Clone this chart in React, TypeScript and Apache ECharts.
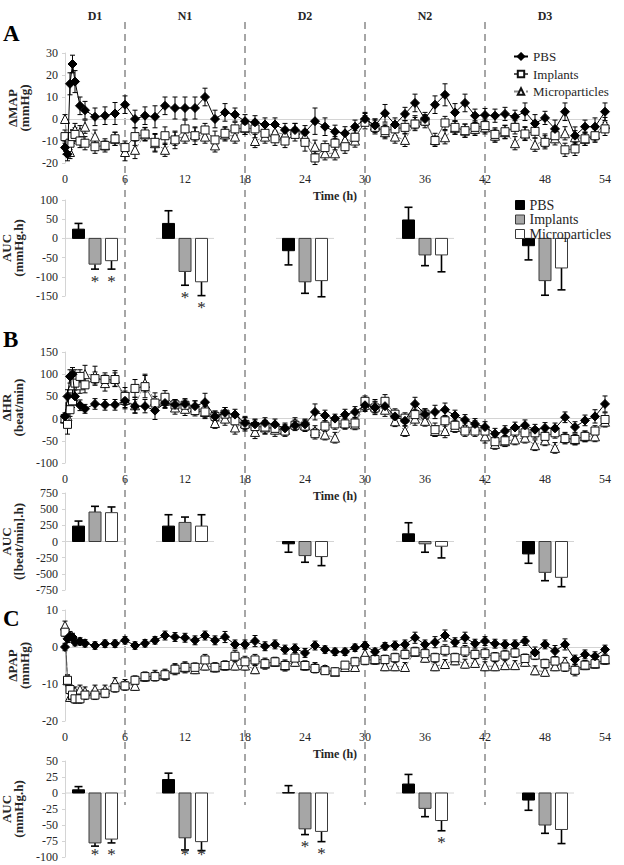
import React, { useEffect, useRef } from "react";
import * as echarts from "echarts";

// ---------------- categories / ticks ----------------
const TIMES_H = [0, 0.25, 0.5, 0.75, 1, 1.5, 2,
  3, 4, 5, 6, 7, 8, 9, 10, 11, 12,
  13, 14, 15, 16, 17, 18, 19, 20, 21, 22,
  23, 24, 25, 26, 27, 28, 29, 30, 31, 32,
  33, 34, 35, 36, 37, 38, 39, 40, 41, 42,
  43, 44, 45, 46, 47, 48, 49, 50, 51, 52,
  53, 54];
const PERIOD_NAMES = ["D1", "N1", "D2", "N2", "D3"];
const PERIOD_EDGES = [0, 6, 18, 30, 42, 54];
const GROUP_NAMES = ["PBS", "Implants", "Microparticles"];

// ---------------- Panel A: ΔMAP (mmHg) ----------------
const MAP_PBS = [-13, -16, 16, 25, 17, 6, 4,
  1, 1.5, 2.5, 6.5, 0, 1.5, 1, 6, 5, 5,
  5, 10, 0, 3, 2, -1, -1.5, -2.5, -2.5, -5,
  -5, -6, -1, -3.5, -5.8, -6.5, -3.5, 0, -3, 2.6,
  -2.5, 2.3, 7.3, 0, 6.5, 11, 3, 7.3, 1.5, 1.8,
  1.5, 2.3, 1, 3.3, -2, 0.5, -4.5, 3.3, -7.6, -3.5,
  -3.5, 3.3];
const MAP_PBS_ERR = [3, 3, 5, 4, 5, 4, 4,
  4, 4, 5, 4, 4, 4, 5, 4, 5, 5,
  5, 4, 4, 4, 3, 3, 3, 3, 3, 3,
  3, 3, 6, 4, 3, 3, 3, 3, 3, 4,
  3, 3, 4, 3, 4, 5, 4, 4, 3, 3,
  3, 3, 3, 4, 4, 3, 4, 4, 4, 3,
  4, 4];
const MAP_IMP = [-8, -13, -11, -8, -7, -10, -11,
  -12.6, -12, -9, -13, -8, -6.8, -10.6, -7.6, -9.5, -4.5,
  -7.6, -5, -9.5, -6.5, -4.5, -4, -4.5, -6.5, -9, -10,
  -7, -10.6, -17.7, -13, -11, -12.6, -8.3, -1.5, -3.8, -5.3,
  -4.5, -3.8, -2.3, -1, -9.8, -1.8, -3.8, -5.3, -3.8, -3,
  -7, -5.8, -3.8, -6.8, -5.6, -10.6, -7.6, -14, -13.6, -9,
  -7.6, -4.5];
const MAP_IMP_ERR = [3, 3, 3, 3, 3, 3, 3,
  3, 2, 3, 3, 4, 3, 4, 4, 4, 4,
  4, 3, 4, 3, 3, 3, 4, 3, 3, 3,
  3, 4, 3, 3, 3, 3, 3, 3, 3, 3,
  3, 3, 3, 3, 2, 3, 3, 3, 3, 3,
  3, 3, 3, 3, 3, 3, 3, 3, 3, 3,
  3, 3];
const MAP_MIC = [0, -12, -15, -8, -5, -6, -3.5,
  -8, -12, -9, -15, -14, -7, -11, -14, -9, -8,
  -7, -8, -12, -7, -8, -4, -10, -8, -6, -7,
  -5, -8, -12.6, -15.6, -15.6, -9.5, -9.8, 0.5, -3, -6,
  -8, -9.5, -1.5, -0.5, -9.5, -8.3, -4, -5.3, -4.5, -3.8,
  -7.6, -6, -11, -6.5, -11.7, -9.8, -8.8, -6.5, -8.3, -9,
  -7, -2.3];
const MAP_MIC_ERR = [2, 3, 3, 3, 3, 3, 3,
  3, 3, 3, 4, 4, 3, 4, 3, 3, 3,
  3, 3, 3, 3, 3, 3, 3, 3, 3, 3,
  3, 3, 3, 3, 3, 3, 3, 2, 3, 3,
  3, 3, 3, 2, 3, 3, 3, 3, 3, 3,
  3, 3, 3, 3, 3, 3, 3, 3, 3, 3,
  3, 3];

// ---------------- Panel B: ΔHR (beat/min) ----------------
const HR_PBS = [5, 50, 95, 100, 50, 30, 22,
  33, 31, 31, 40, 28, 28, 18, 35, 31, 33,
  28, 37, 5, 13, 9, -10, -13, -10, -13, -22,
  -15, -13, 15, 7, 0, 9, 15, 30, 25, 28,
  5, -5, 33, 10, 15, 20, 7, -3, -12, -19,
  -34, -28, -20, -15, -25, -21, -22, 3, -19, -4,
  5, 33];
const HR_PBS_ERR = [8, 15, 15, 15, 15, 12, 10,
  12, 12, 12, 15, 15, 15, 20, 12, 12, 12,
  12, 20, 12, 12, 12, 12, 12, 12, 12, 12,
  10, 12, 18, 12, 10, 12, 12, 12, 12, 15,
  12, 12, 15, 12, 15, 15, 12, 12, 12, 12,
  12, 12, 12, 12, 12, 12, 12, 12, 12, 12,
  15, 18];
const HR_IMP = [0, -13, 20, 40, 80, 95, 76,
  90, 88, 88, 50, 68, 72, 35, 48, 31, 30,
  18, 15, 5, 10, -5, -13, -18, -19, -22, -28,
  -15, -17, -34, -17, -12, -12, -10, 39, 24, 39,
  10, 1, 9, 10, -25, -5, -15, -28, -28, -28,
  -52, -50, -28, -32, -32, -40, -32, -45, -47, -40,
  -28, -2];
const HR_IMP_ERR = [10, 22, 15, 15, 15, 15, 18,
  15, 15, 15, 20, 20, 25, 15, 15, 12, 12,
  12, 12, 12, 15, 15, 15, 15, 15, 12, 12,
  12, 12, 12, 12, 12, 12, 12, 12, 15, 15,
  12, 12, 12, 12, 15, 12, 12, 12, 12, 12,
  12, 12, 12, 12, 12, 12, 12, 12, 12, 12,
  12, 15];
const HR_MIC = [0, 5, 40, 75, 90, 75, 100,
  98, 80, 90, 42, 30, 80, 40, 40, 25, 22,
  25, 15, -10, 0, -20, -10, -30, -20, -25, -25,
  -10, -15, -28, -36, -43, -10, -13, 31, 28, 20,
  -6, -28, 0, -5, -28, -28, -19, -22, -17, -40,
  -57, -51, -47, -43, -60, -49, -66, -43, -47, -40,
  -40, -7];
const HR_MIC_ERR = [8, 15, 18, 20, 20, 18, 20,
  20, 18, 18, 20, 18, 20, 18, 15, 15, 15,
  15, 15, 12, 15, 15, 15, 15, 15, 15, 12,
  12, 12, 12, 12, 12, 12, 12, 15, 15, 15,
  12, 12, 15, 12, 12, 15, 12, 12, 12, 15,
  12, 12, 12, 12, 12, 12, 12, 12, 12, 12,
  12, 12];

// ---------------- Panel C: ΔPAP (mmHg) ----------------
const PAP_PBS = [0, 2.2, 3, 2.7, 1.3, 1.5, 1,
  0.4, 0.9, 0.9, 1.8, 0.4, 1, 1.8, 3.1, 2.7, 2.5,
  1.8, 3.1, 1.8, 2.7, 0.7, 0.7, 1.6, 0.2, 0.7, -0.7,
  -0.4, -1.6, 0.4, -0.7, -1.3, -1.3, -0.2, 0.4, -1.3, 0.2,
  0.4, 0.7, 2.5, 0.7, 1.3, 3.1, 1.3, 2.5, 0.9, 1.6,
  0.9, 0.7, 0.7, 1.6, -1.5, 0.7, -1.1, 0.7, -3.4, -2,
  -2.5, -0.7];
const PAP_PBS_ERR = [1, 1, 1.2, 1, 1, 1, 1,
  1, 1, 1, 1, 1, 1, 1, 1.2, 1.2, 1.2,
  1.2, 1.2, 1.2, 1.5, 1.2, 1.2, 1.5, 1.2, 1.2, 1.2,
  1.2, 1.2, 1.2, 1, 1, 1, 1, 1, 1, 1,
  1.2, 1.2, 1.5, 1.2, 1.5, 1.5, 1.2, 1.5, 1.2, 1.2,
  1.2, 1.2, 1.2, 1.2, 1.5, 1.2, 1.5, 1.5, 1.2, 1.2,
  1.2, 1.2];
const PAP_IMP = [4, -9, -11.5, -13, -14, -14, -13,
  -13, -12.5, -11, -10.5, -9, -8, -8, -7.5, -6, -5.5,
  -5.5, -3.5, -5.5, -5, -2.5, -4, -3.5, -4.5, -4, -5,
  -3, -5, -5.8, -6.4, -6.7, -4.9, -4, -3.6, -3.4, -3.4,
  -2.9, -2, -1.3, -1.8, -2.9, -0.9, -2.9, -1.1, -2, -1.8,
  -2.7, -2.2, -1.6, -3.1, -2.2, -4.5, -3.8, -5.4, -6.3, -4.9,
  -4.5, -3.4];
const PAP_IMP_ERR = [1.2, 1.5, 1.2, 1.2, 1.2, 1.2, 1.2,
  1.2, 1.2, 1.2, 1.2, 1.2, 1.2, 1.2, 1.5, 1.5, 1.5,
  1.2, 1.5, 1.2, 1.2, 1.5, 1.5, 1.5, 1.5, 1.2, 1.5,
  1.5, 1.2, 1.2, 1, 1, 1, 1.2, 1.2, 1.2, 1.2,
  1.2, 1.2, 1.2, 1.2, 1.2, 1.5, 1.2, 1.5, 1.2, 1.5,
  1.2, 1.2, 1.2, 1.2, 1.2, 1.2, 1.2, 1.2, 1.5, 1.2,
  1.2, 1.2];
const PAP_MIC = [5.8, -9, -13.5, -13, -12, -11.5, -12,
  -11.5, -11.5, -9.5, -10, -10.5, -8, -7.5, -7.5, -6, -5.5,
  -6, -5, -5.5, -5, -5, -5, -6, -4.5, -4, -5,
  -4, -5, -5.4, -6, -6.7, -5.4, -5.4, -1.8, -3.4, -5.2,
  -5.2, -5.4, -1.3, -2.9, -5.2, -4.6, -3.6, -4.5, -4.3, -5.2,
  -5.2, -4.9, -4.9, -4, -6.3, -6.7, -5.2, -4, -6, -4.9,
  -4.5, -3.4];
const PAP_MIC_ERR = [1.2, 1.2, 1.2, 1.2, 1.2, 1.2, 1.2,
  1.2, 1.2, 1.2, 1.2, 1.2, 1.2, 1.2, 1.2, 1.2, 1.2,
  1.2, 1.2, 1.2, 1.2, 1.2, 1.2, 1.2, 1.2, 1.2, 1.2,
  1.2, 1.2, 1.2, 1, 1, 1, 1.2, 1.2, 1.2, 1.2,
  1.2, 1.2, 1.2, 1.2, 1.2, 1.2, 1.2, 1.2, 1.2, 1.2,
  1.2, 1.2, 1.2, 1.2, 1.2, 1.2, 1.2, 1.2, 1.2, 1.2,
  1.2, 1.2];

// ---------------- AUC per period (D1, N1, D2, N2, D3) ----------------
const MAP_AUC_PBS = [24, 39, -32, 48, -19];
const MAP_AUC_PBS_ERR = [15, 33, 37, 33, 37];
const MAP_AUC_IMP = [-67, -86, -113, -43, -110];
const MAP_AUC_IMP_ERR = [13, 36, 30, 28, 38];
const MAP_AUC_MIC = [-58, -113, -110, -43, -77];
const MAP_AUC_MIC_ERR = [22, 36, 42, 44, 57];
const MAP_AUC_PBS_SIG = [0, 0, 0, 0, 0];
const MAP_AUC_IMP_SIG = [1, 1, 0, 0, 0];
const MAP_AUC_MIC_SIG = [1, 1, 0, 0, 0];

const HR_AUC_PBS = [238, 238, -36, 119, -192];
const HR_AUC_PBS_ERR = [78, 176, 130, 171, 145];
const HR_AUC_IMP = [456, 295, -218, -36, -477];
const HR_AUC_IMP_ERR = [88, 83, 103, 130, 129];
const HR_AUC_MIC = [446, 238, -233, -73, -554];
const HR_AUC_MIC_ERR = [88, 176, 140, 181, 145];
const HR_AUC_SIG = [0, 0, 0, 0, 0];

const PAP_AUC_PBS = [5, 21, 0.5, 14, -11];
const PAP_AUC_PBS_ERR = [5, 10, 11, 15, 16];
const PAP_AUC_IMP = [-78, -70, -56, -24, -50];
const PAP_AUC_IMP_ERR = [5, 19, 9, 13, 13];
const PAP_AUC_MIC = [-72, -76, -60, -43, -57];
const PAP_AUC_MIC_ERR = [6, 14, 16, 16, 22];
const PAP_AUC_PBS_SIG = [0, 0, 0, 0, 0];
const PAP_AUC_IMP_SIG = [1, 1, 1, 0, 0];
const PAP_AUC_MIC_SIG = [1, 1, 1, 1, 0];

// ---------------- layout / style ----------------
const FONT = "Liberation Serif";
const GRID_LEFT = 65;
const GRID_RIGHT = 19;
const TEXT = "#262626";
const AXIS_GREY = "#d4d4d4";
const BAR_W = 12;
const SLOT_OFFSETS = [-16.5, 0, 16.5];
const ZERO_HALF = 29;
const STAR_SIZE = 17;

const PANELS = [
  {
    letter: "A", letterTop: 22,
    line: { top: 53, height: 110, name: "ΔMAP\n(mmHg)", min: -20, max: 30, interval: 10,
      values: [MAP_PBS, MAP_IMP, MAP_MIC], errs: [MAP_PBS_ERR, MAP_IMP_ERR, MAP_MIC_ERR] },
    auc: { top: 200, height: 96, name: "AUC\n(mmHg.h)", min: -150, max: 100, interval: 50,
      values: [MAP_AUC_PBS, MAP_AUC_IMP, MAP_AUC_MIC], errs: [MAP_AUC_PBS_ERR, MAP_AUC_IMP_ERR, MAP_AUC_MIC_ERR],
      sig: [MAP_AUC_PBS_SIG, MAP_AUC_IMP_SIG, MAP_AUC_MIC_SIG] },
  },
  {
    letter: "B", letterTop: 328,
    line: { top: 352, height: 111, name: "ΔHR\n(beat/min)", min: -100, max: 150, interval: 50,
      values: [HR_PBS, HR_IMP, HR_MIC], errs: [HR_PBS_ERR, HR_IMP_ERR, HR_MIC_ERR] },
    auc: { top: 493, height: 97, name: "AUC\n([beat/min].h)", min: -750, max: 750, interval: 250,
      values: [HR_AUC_PBS, HR_AUC_IMP, HR_AUC_MIC], errs: [HR_AUC_PBS_ERR, HR_AUC_IMP_ERR, HR_AUC_MIC_ERR],
      sig: [HR_AUC_SIG, HR_AUC_SIG, HR_AUC_SIG] },
  },
  {
    letter: "C", letterTop: 607,
    line: { top: 610, height: 111, name: "ΔPAP\n(mmHg)", min: -20, max: 10, interval: 10,
      values: [PAP_PBS, PAP_IMP, PAP_MIC], errs: [PAP_PBS_ERR, PAP_IMP_ERR, PAP_MIC_ERR] },
    auc: { top: 761, height: 96, name: "AUC\n(mmHg.h)", min: -100, max: 50, interval: 25,
      values: [PAP_AUC_PBS, PAP_AUC_IMP, PAP_AUC_MIC], errs: [PAP_AUC_PBS_ERR, PAP_AUC_IMP_ERR, PAP_AUC_MIC_ERR],
      sig: [PAP_AUC_PBS_SIG, PAP_AUC_IMP_SIG, PAP_AUC_MIC_SIG] },
  },
];

const LINE_STYLES: any[] = [
  { symbol: "diamond", symbolSize: 9, itemStyle: { color: "#000", borderColor: "#000", borderWidth: 1 },
    lineStyle: { color: "#000", width: 1 }, z: 5 },
  { symbol: "rect", symbolSize: 8, itemStyle: { color: "#fff", borderColor: "#111", borderWidth: 1 },
    lineStyle: { color: "#555", width: 1 }, z: 4 },
  { symbol: "triangle", symbolSize: 9, itemStyle: { color: "#fff", borderColor: "#111", borderWidth: 1 },
    lineStyle: { color: "#888", width: 1, type: "dashed" }, z: 3 },
];
const BAR_FILLS = ["#000000", "#a6a6a6", "#ffffff"];
const BAR_BORDERS = ["#000000", "#3a3a3a", "#3a3a3a"];

const errRender = (_params: any, api: any) => {
  const t = api.value(0), v = api.value(1), e = api.value(2);
  const hi = api.coord([t, v + e]);
  const lo = api.coord([t, v - e]);
  const st = { stroke: "#000", lineWidth: 1 };
  return {
    type: "group",
    children: [
      { type: "line", shape: { x1: hi[0], y1: hi[1], x2: lo[0], y2: lo[1] }, style: st },
      { type: "line", shape: { x1: hi[0] - 2.5, y1: hi[1], x2: hi[0] + 2.5, y2: hi[1] }, style: st },
      { type: "line", shape: { x1: lo[0] - 2.5, y1: lo[1], x2: lo[0] + 2.5, y2: lo[1] }, style: st },
    ],
  };
};

const aucRender = (slot: number) => (_params: any, api: any) => {
  const c = api.value(0), v = api.value(1), e = api.value(2), sig = api.value(3);
  const base = api.coord([c, 0]);
  const end = api.coord([c, v]);
  const tip = api.coord([c, v >= 0 ? v + e : v - e]);
  const cx = base[0] + SLOT_OFFSETS[slot];
  const est = { stroke: "#000", lineWidth: 1.6 };
  const children: any[] = [
    { type: "line", shape: { x1: cx, y1: end[1], x2: cx, y2: tip[1] }, style: est },
    { type: "line", shape: { x1: cx - 4, y1: tip[1], x2: cx + 4, y2: tip[1] }, style: est },
    {
      type: "rect",
      shape: { x: cx - BAR_W / 2, y: Math.min(base[1], end[1]), width: BAR_W, height: Math.abs(end[1] - base[1]) },
      style: { fill: BAR_FILLS[slot], stroke: BAR_BORDERS[slot], lineWidth: 1 },
    },
  ];
  if (sig) {
    // keep the whole text box inside the canvas
    const cy = Math.min(tip[1] + 12, api.getHeight() - STAR_SIZE * 0.62);
    children.push({
      type: "text", x: cx, y: cy,
      style: { text: "*", fontFamily: FONT, fontSize: STAR_SIZE, lineHeight: STAR_SIZE, fill: TEXT, align: "center", verticalAlign: "middle" },
    });
  }
  return { type: "group", children };
};

const zeroRender = (_params: any, api: any) => {
  const p = api.coord([api.value(0), 0]);
  return {
    type: "line",
    shape: { x1: p[0] - ZERO_HALF, y1: p[1], x2: p[0] + ZERO_HALF, y2: p[1] },
    style: { stroke: AXIS_GREY, lineWidth: 1 },
  };
};

function yAxisCfg(gi: number, cfg: any) {
  return {
    gridIndex: gi, type: "value", min: cfg.min, max: cfg.max, interval: cfg.interval,
    axisLine: { show: true, lineStyle: { color: AXIS_GREY, width: 1 } },
    axisTick: { show: true, length: 3, lineStyle: { color: AXIS_GREY } },
    splitLine: { show: false },
    axisLabel: { fontFamily: FONT, fontSize: 12, color: TEXT, margin: 7 },
    name: cfg.name, nameLocation: "middle", nameGap: 33, nameRotate: 90,
    nameTextStyle: { fontFamily: FONT, fontSize: 13, fontWeight: "bold", color: TEXT, lineHeight: 12 },
  };
}

function buildOption() {
  const grid: any[] = [];
  const xAxis: any[] = [];
  const yAxis: any[] = [];
  const series: any[] = [];
  const graphic: any[] = [];
  const centers = PERIOD_NAMES.map((_, i) => (PERIOD_EDGES[i] + PERIOD_EDGES[i + 1]) / 2);

  PANELS.forEach((panel) => {
    // ---- time course ----
    const L = panel.line;
    const gi = grid.length;
    grid.push({ left: GRID_LEFT, right: GRID_RIGHT, top: L.top, height: L.height, containLabel: false, outerBoundsMode: "none" });
    xAxis.push({
      gridIndex: gi, type: "value", min: 0, max: 54, interval: 6,
      axisLine: { show: false, onZero: false }, axisTick: { show: false }, splitLine: { show: false },
      axisLabel: { fontFamily: FONT, fontSize: 12, color: TEXT, margin: 10 },
      name: "Time (h)", nameLocation: "middle", nameGap: 27,
      nameTextStyle: { fontFamily: FONT, fontSize: 12, fontWeight: "bold", color: TEXT },
    });
    yAxis.push(yAxisCfg(gi, L));
    GROUP_NAMES.forEach((g, s) => {
      series.push({
        type: "custom", xAxisIndex: gi, yAxisIndex: gi, silent: true, z: 2,
        data: TIMES_H.map((t, i) => [t, L.values[s][i], L.errs[s][i] ?? 0]),
        renderItem: errRender,
      });
      series.push({
        type: "line", name: g, xAxisIndex: gi, yAxisIndex: gi, silent: true,
        showSymbol: true, showAllSymbol: true,
        data: TIMES_H.map((t, i) => [t, L.values[s][i]]),
        ...LINE_STYLES[s],
        ...(s === 0
          ? {
              markLine: {
                silent: true, symbol: ["none", "none"], label: { show: false },
                lineStyle: { color: AXIS_GREY, width: 1, type: "solid" },
                data: [{ yAxis: 0 }], z: 1,
              },
            }
          : {}),
      });
    });

    // ---- AUC ----
    const A = panel.auc;
    const ai = grid.length;
    grid.push({ left: GRID_LEFT, right: GRID_RIGHT, top: A.top, height: A.height, containLabel: false, outerBoundsMode: "none" });
    xAxis.push({ gridIndex: ai, type: "value", min: 0, max: 54, show: false });
    yAxis.push(yAxisCfg(ai, A));
    series.push({
      type: "custom", xAxisIndex: ai, yAxisIndex: ai, silent: true, z: 1,
      data: centers.map((c) => [c]), renderItem: zeroRender,
    });
    GROUP_NAMES.forEach((g, s) => {
      series.push({
        type: "custom", name: g + " AUC", xAxisIndex: ai, yAxisIndex: ai, silent: true, z: 3,
        itemStyle: { color: BAR_FILLS[s], borderColor: BAR_BORDERS[s], borderWidth: 1 },
        data: centers.map((c, i) => [c, A.values[s][i], A.errs[s][i], A.sig[s][i]]),
        renderItem: aucRender(s),
      });
    });

    graphic.push({
      type: "text", left: 3, top: panel.letterTop,
      style: { text: panel.letter, fontFamily: FONT, fontSize: 23, fontWeight: "bold", fill: "#000" },
    });
  });

  // ---- overlay: period boundaries and labels ----
  const oi = grid.length;
  grid.push({ left: GRID_LEFT, right: GRID_RIGHT, top: 22, height: 783, containLabel: false, outerBoundsMode: "none" });
  xAxis.push({ gridIndex: oi, type: "value", min: 0, max: 54, show: false });
  yAxis.push({ gridIndex: oi, type: "value", min: 0, max: 1, show: false });
  series.push({
    type: "custom", xAxisIndex: oi, yAxisIndex: oi, silent: true, z: 0,
    data: PERIOD_EDGES.slice(1, -1).map((e) => [e]),
    renderItem: (_p: any, api: any) => {
      const a = api.coord([api.value(0), 1]);
      const b = api.coord([api.value(0), 0]);
      return {
        type: "line",
        shape: { x1: a[0], y1: a[1], x2: b[0], y2: b[1] },
        style: { stroke: "#a6a6a6", lineWidth: 2, lineDash: [7, 5] },
      };
    },
  });
  series.push({
    type: "custom", xAxisIndex: oi, yAxisIndex: oi, silent: true, z: 6,
    data: centers.map((c) => [c]),
    renderItem: (params: any, api: any) => {
      const p = api.coord([api.value(0), 1]);
      return {
        type: "text", x: p[0], y: p[1] - 6,
        style: { text: PERIOD_NAMES[params.dataIndex], fontFamily: FONT, fontSize: 12, fontWeight: "bold", fill: TEXT, align: "center", verticalAlign: "middle" },
      };
    },
  });

  return {
    animation: false,
    backgroundColor: "#ffffff",
    textStyle: { fontFamily: FONT },
    grid, xAxis, yAxis, series, graphic,
    legend: [
      {
        orient: "vertical", left: 508, top: 45, itemWidth: 14, itemHeight: 8, itemGap: 4.5,
        selectedMode: false,
        data: GROUP_NAMES,
        textStyle: { fontFamily: FONT, fontSize: 13, color: TEXT, lineHeight: 13 },
      },
      {
        orient: "vertical", left: 510, top: 193, itemWidth: 9, itemHeight: 9, itemGap: 0.5,
        selectedMode: false,
        data: GROUP_NAMES.map((g, s) => ({
          name: g + " AUC", icon: "rect",
          itemStyle: { color: BAR_FILLS[s], borderColor: BAR_BORDERS[s], borderWidth: 1 },
        })),
        formatter: (n: string) => n.replace(" AUC", ""),
        textStyle: { fontFamily: FONT, fontSize: 14, color: TEXT, lineHeight: 12 },
      },
    ],
  };
}

export default function App() {
  const ref = useRef<HTMLDivElement>(null);
  useEffect(() => {
    if (!ref.current) return;
    const chart = echarts.init(ref.current, undefined, { renderer: "svg" });
    chart.setOption(buildOption() as any);
    return () => chart.dispose();
  }, []);
  return (
    <div
      ref={ref}
      style={{ position: "absolute", left: 0, top: 0, width: 624, height: 865, background: "#fff" }}
    />
  );
}
